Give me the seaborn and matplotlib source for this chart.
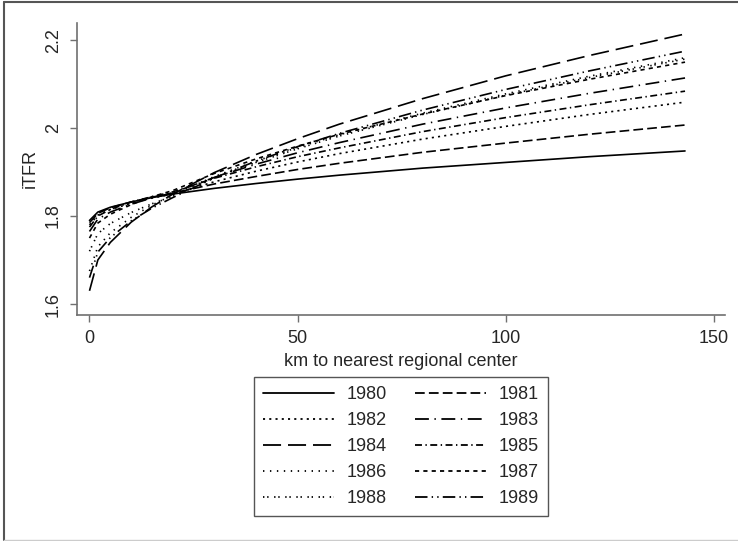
import numpy as np
import pandas as pd
import seaborn as sns
import matplotlib.pyplot as plt
from matplotlib.lines import Line2D

# km to nearest regional center
km = [0, 2, 5, 10, 15, 20, 30, 40, 50, 60, 80, 100, 120, 143]

# iTFR by year
y1980 = [1.790, 1.809, 1.820, 1.832, 1.842, 1.850, 1.863, 1.874, 1.884, 1.893, 1.909, 1.922, 1.935, 1.948]
y1981 = [1.785, 1.806, 1.819, 1.832, 1.843, 1.852, 1.873, 1.890, 1.906, 1.920, 1.945, 1.966, 1.986, 2.007]
y1982 = [1.780, 1.802, 1.815, 1.829, 1.841, 1.850, 1.878, 1.902, 1.923, 1.942, 1.975, 2.004, 2.031, 2.059]
y1983 = [1.765, 1.793, 1.809, 1.827, 1.841, 1.853, 1.888, 1.918, 1.944, 1.967, 2.009, 2.046, 2.079, 2.114]
y1984 = [1.630, 1.700, 1.740, 1.786, 1.821, 1.850, 1.899, 1.940, 1.976, 2.009, 2.067, 2.119, 2.165, 2.214]
y1985 = [1.775, 1.800, 1.815, 1.832, 1.844, 1.855, 1.886, 1.912, 1.935, 1.955, 1.992, 2.024, 2.053, 2.084]
y1986 = [1.675, 1.730, 1.762, 1.797, 1.825, 1.848, 1.890, 1.925, 1.956, 1.985, 2.034, 2.078, 2.118, 2.160]
y1987 = [1.750, 1.784, 1.804, 1.826, 1.844, 1.858, 1.897, 1.930, 1.959, 1.986, 2.032, 2.074, 2.111, 2.150]
y1988 = [1.720, 1.760, 1.783, 1.808, 1.828, 1.845, 1.887, 1.922, 1.953, 1.982, 2.031, 2.075, 2.115, 2.157]
y1989 = [1.660, 1.718, 1.751, 1.789, 1.818, 1.842, 1.887, 1.925, 1.958, 1.988, 2.041, 2.088, 2.130, 2.175]

years = ['1980', '1981', '1982', '1983', '1984', '1985', '1986', '1987', '1988', '1989']
series = [y1980, y1981, y1982, y1983, y1984, y1985, y1986, y1987, y1988, y1989]

df = pd.concat([pd.DataFrame({'km': km, 'iTFR': s, 'year': yr}) for yr, s in zip(years, series)])

# line patterns (in points)
dashes = {
    '1980': '',
    '1981': (7, 3),
    '1982': (1.5, 3),
    '1983': (10, 4, 1, 4),
    '1984': (13, 5),
    '1985': (5, 2.5, 1, 2.5),
    '1986': (1, 4),
    '1987': (3, 3),
    '1988': (1, 2, 1, 4),
    '1989': (9, 3, 1, 3, 1, 3),
}

sns.set_style('white')
plt.rcParams['font.family'] = ['Liberation Sans', 'DejaVu Sans']
plt.rcParams['lines.scale_dashes'] = False

fig = plt.figure(figsize=(7.38, 5.41), dpi=100)
ax = fig.add_axes([77 / 738, 1 - 315 / 541, (725 - 77) / 738, (315 - 23) / 541])

sns.lineplot(data=df, x='km', y='iTFR', hue='year', style='year', hue_order=years,
             style_order=years, palette=['black'] * 10, dashes=dashes, linewidth=1.2,
             legend=False, ax=ax)

ax.set_xlim(-3, 152.6)
ax.set_ylim(1.575, 2.239)
ax.set_xticks([0, 50, 100, 150])
ax.set_yticks([1.6, 1.8, 2.0, 2.2])
ax.set_yticklabels(['1.6', '1.8', '2', '2.2'], rotation=90, va='center')
ax.set_xlabel('km to nearest regional center', fontsize=13, labelpad=4)
ax.set_ylabel('iTFR', fontsize=13, labelpad=4)

for s in ['top', 'right']:
    ax.spines[s].set_visible(False)
for s in ['left', 'bottom']:
    ax.spines[s].set_color('#707070')
    ax.spines[s].set_linewidth(1.2)
ax.tick_params(axis='both', direction='out', length=5, width=1, color='#707070',
               labelsize=13, pad=6, left=True, bottom=True)

# legend, row-wise order like the original (two columns)
order = years[0::2] + years[1::2]
leg_handles = [Line2D([], [], color='black', linewidth=1.3,
                      linestyle='-' if dashes[yr] == '' else (0, dashes[yr])) for yr in order]
leg = fig.legend(leg_handles, order, ncol=2, loc='upper center',
                 bbox_to_anchor=(401 / 738, 1 - 377 / 541), borderaxespad=0, fontsize=13,
                 handlelength=3.9, handletextpad=0.7, columnspacing=1.6,
                 labelspacing=0.5, borderpad=0.5, fancybox=False, framealpha=1,
                 edgecolor='#555555')
leg.get_frame().set_linewidth(1.0)

# outer border of the graph region
fig.add_artist(Line2D([4 / 738, 4 / 738], [1 - 2 / 541, 1 - 540 / 541], transform=fig.transFigure,
                      color='#555555', linewidth=1.5))
fig.add_artist(Line2D([4 / 738, 1], [1 - 2 / 541, 1 - 2 / 541], transform=fig.transFigure,
                      color='#555555', linewidth=1.5))
fig.add_artist(Line2D([4 / 738, 1], [1 - 540 / 541, 1 - 540 / 541], transform=fig.transFigure,
                      color='#cccccc', linewidth=1.0))

fig.savefig('out.png', dpi=100)
